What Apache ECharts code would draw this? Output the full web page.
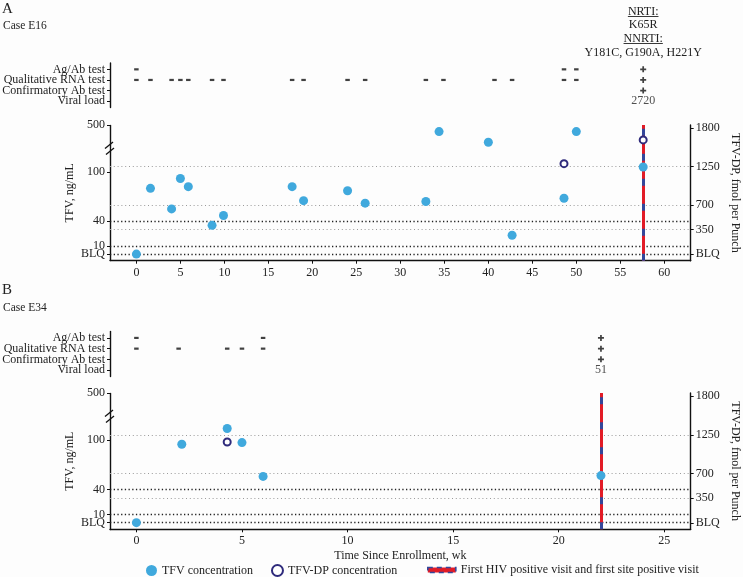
<!DOCTYPE html>
<html><head><meta charset="utf-8">
<script src="https://cdn.jsdelivr.net/npm/echarts@6/dist/echarts.min.js"></script>
<style>html,body{margin:0;padding:0;background:#fdfdfd;} #c{width:743px;height:577px;}</style>
</head><body><div id="c"></div>
<script>
// ---------- data ----------
const testNames = ['Ag/Ab test', 'Qualitative RNA test', 'Confirmatory Ab test', 'Viral load'];
const tfvTicks = [0, 10, 40, 100, 500];
const dpTicks = [0, 350, 700, 1250, 1800];
const tfvGridValues = [0, 10, 40];
const dpGridValues = [350, 700, 1250];
const aWeekTicks = [0, 5, 10, 15, 20, 25, 30, 35, 40, 45, 50, 55, 60];
const bWeekTicks = [0, 5, 10, 15, 20, 25];

// Panel A - Case E16
const aAgAbNegWeeks = [0, 48.6, 50.0];
const aRnaNegWeeks = [0, 1.6, 4.0, 5.0, 5.9, 8.6, 9.9, 17.7, 19.0, 24.0, 26.0, 32.9, 34.9, 40.7, 42.7, 48.6, 50.0];
const aPositiveWeek = 57.6;
const aPositiveTests = ['Ag/Ab test', 'Qualitative RNA test', 'Confirmatory Ab test'];
const aViralLoad = '2720';
const aTfvWeeks = [0, 1.6, 4.0, 5.0, 5.9, 8.6, 9.9, 17.7, 19.0, 24.0, 26.0, 32.9, 34.4, 40.0, 42.7, 48.6, 50.0, 57.6];
const aTfvValues = [0, 80, 55, 92, 82, 35, 47, 82, 65, 77, 62, 64, 492, 479, 23, 68, 492, 106];
const aDpWeeks = [48.6, 57.6];
const aDpValues = [1293, 1632];
const aResistance = ['NRTI:', 'K65R', 'NNRTI:', 'Y181C, G190A, H221Y'];

// Panel B - Case E34
const bAgAbNegWeeks = [0, 6.0];
const bRnaNegWeeks = [0, 2.0, 4.3, 5.0, 6.0];
const bPositiveWeek = 22.0;
const bPositiveTests = ['Ag/Ab test', 'Qualitative RNA test', 'Confirmatory Ab test'];
const bViralLoad = '51';
const bTfvWeeks = [0, 2.15, 4.3, 5.0, 6.0, 22.0];
const bTfvValues = [0, 95, 114, 97, 56, 57];
const bDpWeeks = [4.3];
const bDpValues = [1148];

// ---------- style / layout ----------
const FONT = '"Liberation Serif", "DejaVu Serif", serif';
const TXT = '#222';
const TFV_COLOR = '#40a9dd';
const DP_COLOR = '#2f2b7c';
const RED = '#e21b26';
const BLUE = '#34479a';
const GRID_LEFT = 110, GRID_WIDTH = 580.7;
const PLUS = 'path://M2,0H3.6V2H5.6V3.6H3.6V5.6H2V3.6H0V2H2Z';
const LEGEND_TFV = 'TFV concentration';
const LEGEND_DP = 'TFV-DP concentration';
const LEGEND_LINE = 'First HIV positive visit and first site positive visit';

const panels = [
  { agab: aAgAbNegWeeks, rna: aRnaNegWeeks, pos: aPositiveWeek, posTests: aPositiveTests, vl: aViralLoad,
    tfvW: aTfvWeeks, tfvV: aTfvValues, dpW: aDpWeeks, dpV: aDpValues,
    xMin: -3, xMax: 63, ticks: aWeekTicks, testTop: 63, testH: 44.5, mainTop: 125, mainH: 135.7, showName: false },
  { agab: bAgAbNegWeeks, rna: bRnaNegWeeks, pos: bPositiveWeek, posTests: bPositiveTests, vl: bViralLoad,
    tfvW: bTfvWeeks, tfvV: bTfvValues, dpW: bDpWeeks, dpV: bDpValues,
    xMin: -1.25, xMax: 26.25, ticks: bWeekTicks, testTop: 331.5, testH: 45, mainTop: 393, mainH: 136.3, showName: true }
];

const grid = [], xAxis = [], yAxis = [], series = [];
const axisLineStyle = { color: '#111', width: 1.4 };
const labelStyle = { color: TXT, fontFamily: FONT, fontSize: 12, hideOverlap: false, showMinLabel: true, showMaxLabel: true };
const nameStyle = { color: TXT, fontFamily: FONT, fontSize: 12 };
const tfvFmt = v => v === 0 ? 'BLQ' : String(v);
const testFmt = v => testNames[Math.round(v)] || '';
// split label sets so neighbouring labels never sit on the same axis (avoids auto hiding)
const testIdx = testNames.map((t, k) => k);
const testLabelsA = testIdx.filter(k => k % 2 === 0), testLabelsB = testIdx.filter(k => k % 2 === 1);
const tfvLabelsA = tfvTicks.filter((v, k) => k !== 1), tfvLabelsB = tfvTicks.filter((v, k) => k === 1);

panels.forEach((p, i) => {
  const gT = i * 2, gM = i * 2 + 1;
  const yT = i * 5, yL = i * 5 + 2, yR = i * 5 + 4;
  grid.push({ left: GRID_LEFT, width: GRID_WIDTH, top: p.testTop, height: p.testH, containLabel: false, outerBoundsMode: 'none' });
  grid.push({ left: GRID_LEFT, width: GRID_WIDTH, top: p.mainTop, height: p.mainH, containLabel: false, outerBoundsMode: 'none' });
  xAxis.push({ type: 'value', gridIndex: gT, min: p.xMin, max: p.xMax, show: false });
  xAxis.push({
    type: 'value', gridIndex: gM, min: p.xMin, max: p.xMax, position: 'bottom',
    axisLine: { show: true, onZero: false, lineStyle: axisLineStyle },
    axisTick: { show: true, length: 3, customValues: p.ticks, lineStyle: { color: '#111' } },
    axisLabel: Object.assign({ customValues: p.ticks, margin: 6 }, labelStyle),
    splitLine: { show: false },
    name: p.showName ? 'Time Since Enrollment, wk' : '',
    nameLocation: 'middle', nameGap: 21, nameMoveOverlap: false,
    nameTextStyle: nameStyle
  });
  const testAxis = (labels, main) => ({
    type: 'value', gridIndex: gT, position: 'left', offset: 0, min: -0.6, max: 3.6, inverse: true,
    axisLine: { show: main, onZero: false, lineStyle: axisLineStyle },
    axisTick: { show: main, length: 3, customValues: testIdx, lineStyle: { color: '#111' } },
    axisLabel: Object.assign({}, labelStyle, { customValues: labels, margin: 5, formatter: testFmt }),
    splitLine: { show: false }
  });
  yAxis.push(testAxis(testLabelsA, true));
  yAxis.push(testAxis(testLabelsB, false));
  const tfvAxis = (labels, main) => ({
    type: 'value', gridIndex: gM, position: 'left', offset: 0, min: -8, max: 500,
    breaks: [{ start: 128, end: 472, gap: 1 }],
    breakArea: { show: false, expandOnClick: false, itemStyle: { opacity: 0 } },
    axisLine: { show: main, onZero: false, lineStyle: axisLineStyle },
    axisTick: { show: main, length: 3, customValues: tfvTicks, lineStyle: { color: '#111' } },
    axisLabel: Object.assign({}, labelStyle, { customValues: labels, margin: 5, formatter: tfvFmt }),
    splitLine: { show: false },
    name: main ? 'TFV, ng/mL' : '', nameLocation: 'middle', nameGap: 34, nameMoveOverlap: false,
    nameTextStyle: nameStyle
  });
  yAxis.push(tfvAxis(tfvLabelsA, true));
  yAxis.push(tfvAxis(tfvLabelsB, false));
  yAxis.push({
    type: 'value', gridIndex: gM, position: 'right', offset: 0, min: -93, max: 1845,
    axisLine: { show: true, onZero: false, lineStyle: axisLineStyle },
    axisTick: { show: true, length: 3, customValues: dpTicks, lineStyle: { color: '#111' } },
    axisLabel: Object.assign({}, labelStyle, { customValues: dpTicks, margin: 5, formatter: tfvFmt }),
    splitLine: { show: false },
    name: 'TFV-DP, fmol per Punch', nameLocation: 'middle', nameGap: 38, nameRotate: -90, nameMoveOverlap: false,
    nameTextStyle: nameStyle
  });

  // test rows
  const negData = p.agab.map(w => [w, testNames.indexOf('Ag/Ab test')])
    .concat(p.rna.map(w => [w, testNames.indexOf('Qualitative RNA test')]));
  series.push({ type: 'scatter', name: 'neg' + i, xAxisIndex: gT, yAxisIndex: yT, symbol: 'rect', symbolSize: [4.5, 2.2],
    itemStyle: { color: '#111' }, data: negData, silent: true });
  series.push({ type: 'scatter', name: 'pos' + i, xAxisIndex: gT, yAxisIndex: yT, symbol: PLUS, symbolSize: 6,
    itemStyle: { color: '#111' }, data: p.posTests.map(t => [p.pos, testNames.indexOf(t)]), silent: true });
  series.push({ type: 'scatter', name: 'vl' + i, xAxisIndex: gT, yAxisIndex: yT, symbolSize: 1,
    itemStyle: { color: 'rgba(0,0,0,0)' }, data: [[p.pos, testNames.indexOf('Viral load'), p.vl]], silent: true,
    label: { show: true, position: 'inside', formatter: q => q.value[2], color: TXT, fontFamily: FONT, fontSize: 12 } });

  // gridlines
  series.push({ type: 'scatter', name: 'gl' + i, xAxisIndex: gM, yAxisIndex: yL, data: [], z: 1, silent: true,
    markLine: { z: 2, silent: true, symbol: ['none', 'none'], label: { show: false }, animation: false,
      lineStyle: { color: '#222', width: 1.3, type: [1.3, 2.4] },
      data: tfvGridValues.map(v => ({ yAxis: v })) } });
  series.push({ type: 'scatter', name: 'gd' + i, xAxisIndex: gM, yAxisIndex: yR, data: [], z: 1, silent: true,
    markLine: { z: 2, silent: true, symbol: ['none', 'none'], label: { show: false }, animation: false,
      lineStyle: { color: '#9a9a9a', width: 1, type: [1, 2.8] },
      data: dpGridValues.map(v => ({ yAxis: v })) } });
  // positive visit line: red base + blue dashes on top
  series.push({ type: 'line', name: LEGEND_LINE, xAxisIndex: gM, yAxisIndex: yL, data: [], z: 3, silent: true,
    itemStyle: { color: RED }, lineStyle: { color: RED, width: 3 },
    markLine: { z: 4, silent: true, symbol: ['none', 'none'], label: { show: false }, animation: false,
      data: [ { xAxis: p.pos, lineStyle: { color: RED, width: 3, type: 'solid' } } ] } });
  series.push({ type: 'line', name: 'dash' + i, xAxisIndex: gM, yAxisIndex: yL, data: [], z: 3, silent: true,
    markLine: { z: 5, silent: true, symbol: ['none', 'none'], label: { show: false }, animation: false,
      data: [ { xAxis: p.pos, lineStyle: { color: BLUE, width: 3, type: [7, 18] } } ] } });
  // points
  series.push({ type: 'scatter', name: LEGEND_TFV, xAxisIndex: gM, yAxisIndex: yL, z: 10, symbolSize: 9,
    itemStyle: { color: TFV_COLOR, opacity: 1 }, data: p.tfvW.map((w, k) => [w, p.tfvV[k]]) });
  series.push({ type: 'scatter', name: LEGEND_DP, xAxisIndex: gM, yAxisIndex: yR, z: 11, symbol: 'emptyCircle', symbolSize: 7,
    itemStyle: { color: DP_COLOR, borderColor: DP_COLOR, borderWidth: 2, opacity: 1 }, data: p.dpW.map((w, k) => [w, p.dpV[k]]) });
});

const titleStyle = (fs) => ({ color: TXT, fontFamily: FONT, fontSize: fs, fontWeight: 'normal' });
const option = {
  backgroundColor: '#fdfdfd',
  animation: false,
  title: [
    { text: 'A', left: 2, top: 2, padding: 0, textStyle: titleStyle(15) },
    { text: 'Case E16', left: 3, top: 20, padding: 0, textStyle: titleStyle(11.5) },
    { text: 'B', left: 2, top: 283, padding: 0, textStyle: titleStyle(15) },
    { text: 'Case E34', left: 3, top: 302, padding: 0, textStyle: titleStyle(11.5) }
  ],
  legend: [
    { data: [{ name: LEGEND_TFV, icon: 'circle' }, { name: LEGEND_DP, icon: 'emptyCircle' }],
      left: 146, top: 564, itemWidth: 11, itemHeight: 11, itemGap: 18, padding: 0, selectedMode: false,
      textStyle: { color: TXT, fontFamily: FONT, fontSize: 12 } },
    { data: [{ name: LEGEND_LINE, icon: 'rect',
        itemStyle: { color: RED, borderColor: BLUE, borderWidth: 1.6, borderType: [5, 4] } }],
      left: 427, top: 564, itemWidth: 28, itemHeight: 5, padding: 0, selectedMode: false,
      textStyle: { color: TXT, fontFamily: FONT, fontSize: 12 } }
  ],
  grid, xAxis, yAxis, series
};

const chart = echarts.init(document.getElementById('c'), null, { renderer: 'canvas' });
chart.setOption(option);

// annotations: resistance text above positive visit of panel A, axis break marks
const cx = chart.convertToPixel({ xAxisIndex: 0 }, aPositiveWeek);
const resY = [11.5, 24.5, 38.5, 52.5];
const underline = [true, false, true, false];
const graphics = [];
aResistance.forEach((t, k) => {
  graphics.push({ type: 'text', silent: true, style: { text: t, x: cx, y: resY[k], align: 'center', verticalAlign: 'middle',
    font: '12px ' + FONT, fill: TXT } });
  if (underline[k]) {
    const w = echarts.format.getTextRect ? echarts.format.getTextRect(t, '12px ' + FONT).width : t.length * 6.5;
    graphics.push({ type: 'line', silent: true, shape: { x1: cx - w / 2, y1: resY[k] + 5, x2: cx + w / 2, y2: resY[k] + 5 },
      style: { stroke: TXT, lineWidth: 0.9 } });
  }
});
panels.forEach(p => {
  const by = p.mainTop + 23;
  graphics.push({ type: 'line', silent: true, shape: { x1: GRID_LEFT - 5, y1: by + 0.5, x2: GRID_LEFT + 3, y2: by - 6 },
    style: { stroke: '#111', lineWidth: 1.3 } });
  graphics.push({ type: 'line', silent: true, shape: { x1: GRID_LEFT - 4, y1: by + 6.5, x2: GRID_LEFT + 4, y2: by } ,
    style: { stroke: '#111', lineWidth: 1.3 } });
});
chart.setOption({ graphic: graphics });
</script></body></html>
